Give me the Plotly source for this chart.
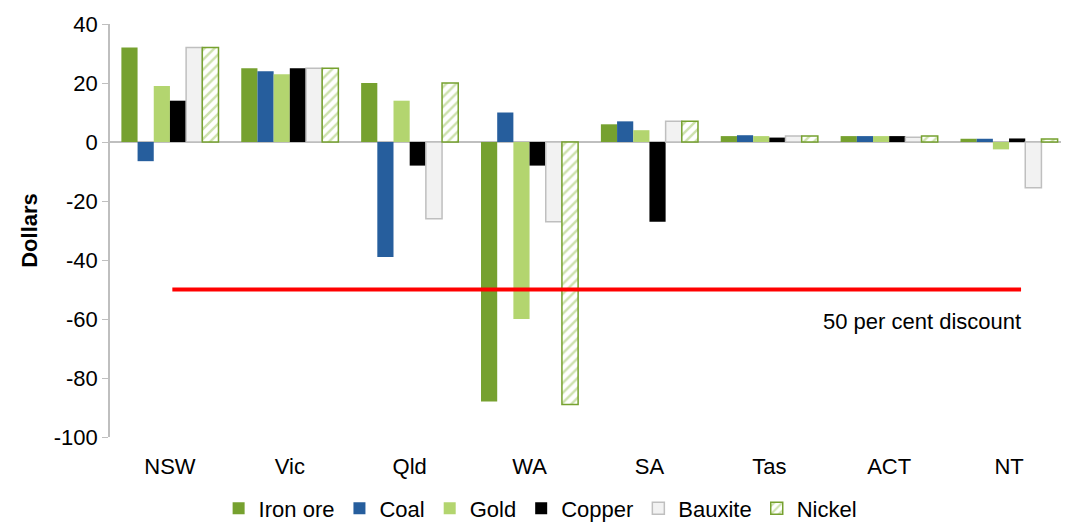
import plotly.graph_objects as go

states = ["NSW", "Vic", "Qld", "WA", "SA", "Tas", "ACT", "NT"]
iron_ore = [32, 25, 20, -88, 6, 2, 2, 1.1]
coal = [-6.5, 24, -39, 10, 7, 2.3, 2, 1.1]
gold = [19, 23, 14, -60, 4, 2, 2, -2.5]
copper = [14, 25, -8, -8, -27, 1.5, 2, 1.2]
bauxite = [32, 25, -26, -27, 7, 2, 1.6, -15.5]
nickel = [32, 25, 20, -89, 7, 2, 2, 1]
y_ticks = [40, 20, 0, -20, -40, -60, -80, -100]
y_tick_labels = ["40", "20", "0", "-20", "-40", "-60", "-80", "-100"]
discount_level = -50
discount_label = "50 per cent discount"

fig = go.Figure()
fig.add_trace(go.Bar(name="Iron ore", x=states, y=iron_ore, marker=dict(color="#76A12F", line=dict(width=0))))
fig.add_trace(go.Bar(name="Coal", x=states, y=coal, marker=dict(color="#265E9D", line=dict(width=0))))
fig.add_trace(go.Bar(name="Gold", x=states, y=gold, marker=dict(color="#B3D56F", line=dict(width=0))))
fig.add_trace(go.Bar(name="Copper", x=states, y=copper, marker=dict(color="#000000", line=dict(width=0))))
fig.add_trace(go.Bar(name="Bauxite", x=states, y=bauxite,
                     marker=dict(color="#F2F2F2", line=dict(color="#BFBFBF", width=1.5))))
fig.add_trace(go.Bar(name="Nickel", x=states, y=nickel,
                     marker=dict(color="white", line=dict(color="#76A12F", width=1.5),
                                 pattern=dict(shape="/", fgcolor="#9BC45A", bgcolor="white",
                                              size=7, solidity=0.35))))

fig.add_shape(type="line", xref="x", yref="y", x0=0.02, x1=7.1,
              y0=discount_level, y1=discount_level, line=dict(color="#FF0000", width=4))
fig.add_annotation(x=7.12, y=-61, xref="x", yref="y", text=discount_label, showarrow=False,
                   xanchor="right", font=dict(size=22, color="#000000"))

fig.update_layout(
    width=1061, height=518,
    margin=dict(l=102, r=0, t=16, b=89, autoexpand=False),
    plot_bgcolor="white", paper_bgcolor="white",
    font=dict(family="Liberation Sans, Arial, sans-serif", size=22, color="#000000"),
    barmode="group", bargap=0.19, bargroupgap=0.0,
    showlegend=True,
    legend=dict(orientation="h", xref="container", yref="paper", x=0.502, xanchor="center",
                y=-0.173, yanchor="middle", font=dict(size=22), itemwidth=30,
                tracegroupgap=0, itemclick=False),
    xaxis=dict(showgrid=False, showline=False, ticks="outside", ticklen=10,
               tickcolor="rgba(0,0,0,0)", tickfont=dict(size=22)),
    yaxis=dict(range=[-100, 40], tickvals=y_ticks, ticktext=y_tick_labels, showgrid=False,
               showline=True, linecolor="#BFBFBF",
               linewidth=1.5, ticks="outside", ticklen=6, tickcolor="#BFBFBF",
               zeroline=True, zerolinecolor="#BFBFBF", zerolinewidth=2,
               title=dict(text="<b>Dollars</b>", font=dict(size=22), standoff=10),
               tickfont=dict(size=22)),
)

fig.write_html("out.html")
